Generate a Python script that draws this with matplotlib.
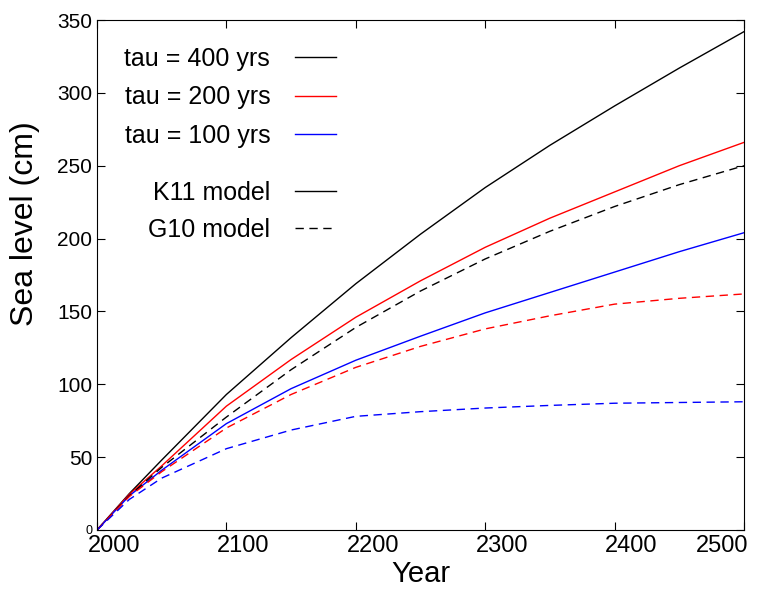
import matplotlib
matplotlib.use('Agg')
import matplotlib.pyplot as plt
import matplotlib.transforms as mtransforms
from matplotlib.lines import Line2D

plt.rcParams['font.family'] = ['Liberation Sans', 'DejaVu Sans']

# values (cm)
years = [2000, 2025, 2050, 2100, 2150, 2200, 2250, 2300, 2350, 2400, 2450, 2500]

k11_tau400 = [0, 25, 48, 93, 132, 169, 203, 235, 264, 291, 317, 342]
k11_tau200 = [0, 24.5, 44, 85, 117, 146, 171, 194, 214, 232, 250, 266]
k11_tau100 = [0, 23.5, 41, 73, 97, 116.5, 133, 149, 163, 177, 191, 204]

g10_tau400 = [0, 23.5, 43, 77.5, 110, 139, 164, 186, 205, 222, 237, 250]
g10_tau200 = [0, 23, 40, 70, 93, 111.6, 126, 138, 147, 155, 159, 162]
g10_tau100 = [0, 21, 35.6, 55.8, 68.6, 78, 81.2, 83.7, 85.5, 87, 87.5, 88]

tau_labels = ['tau = 400 yrs', 'tau = 200 yrs', 'tau = 100 yrs']
tau_colors = ['black', 'red', 'blue']
model_labels = ['K11 model', 'G10 model']

xticks = [2000, 2100, 2200, 2300, 2400, 2500]
yticks = [0, 50, 100, 150, 200, 250, 300, 350]

dash = (0, (6, 4))

fig = plt.figure(figsize=(7.65, 5.9), dpi=100)
ax = fig.add_axes([0.1268, 0.1017, 0.8457, 0.8644])

k11 = [k11_tau400, k11_tau200, k11_tau100]
g10 = [g10_tau400, g10_tau200, g10_tau100]
for vals, col in zip(k11, tau_colors):
    ax.plot(years, vals, color=col, lw=1)
for vals, col in zip(g10, tau_colors):
    ax.plot(years, vals, color=col, lw=1, linestyle=dash)

ax.set_xlim(2000, 2500)
ax.set_ylim(0, 350)
ax.set_xticks(xticks)
ax.set_yticks(yticks)
ax.tick_params(direction='in', length=6, top=True, right=True, labelsize=17, width=0.8)
ax.tick_params(axis='y', labelsize=15)

ax.set_xlabel('Year', fontsize=21, labelpad=2)
ax.set_ylabel('Sea level (cm)', fontsize=23)
ax.yaxis.set_label_coords(-0.088, 0.6)

h1 = [Line2D([], [], color=c, lw=1) for c in tau_colors]
leg1 = ax.legend(h1, tau_labels, loc='upper right', bbox_to_anchor=(0.37, 0.947),
                 frameon=False, markerfirst=False, fontsize=18, handlelength=1.65,
                 handletextpad=1.0, labelspacing=0.57, borderpad=0, borderaxespad=0)
ax.add_artist(leg1)

h2 = [Line2D([], [], color='black', lw=1),
      Line2D([], [], color='black', lw=1, linestyle=dash)]
ax.legend(h2, model_labels, loc='upper right', bbox_to_anchor=(0.37, 0.684),
          frameon=False, markerfirst=False, fontsize=18, handlelength=1.65,
          handletextpad=1.0, labelspacing=0.5, borderpad=0, borderaxespad=0)

# tick label tweaks, done after a draw so the tick objects are final
fig.canvas.draw()
ax.get_yticklabels()[0].set_fontsize(9)
off = mtransforms.ScaledTranslation(17 / 100, 0, fig.dpi_scale_trans)
for tick in ax.xaxis.get_major_ticks():
    lab = tick.label1
    if lab.get_text() == '2500':
        lab.set_horizontalalignment('right')
        lab.set_transform(lab.get_transform()
                          + mtransforms.ScaledTranslation(4 / 100, 0, fig.dpi_scale_trans))
    else:
        lab.set_transform(lab.get_transform() + off)

fig.savefig('out.png', dpi=100)
